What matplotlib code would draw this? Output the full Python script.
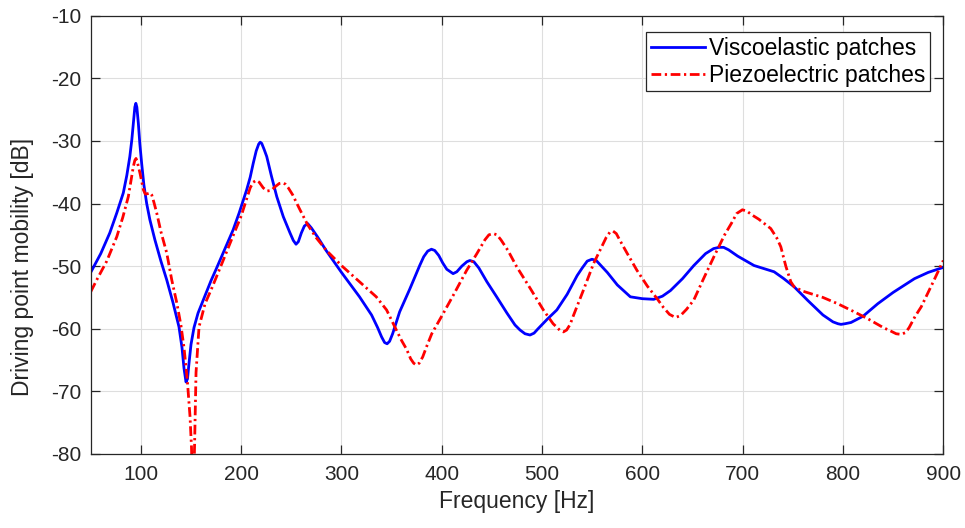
import matplotlib
matplotlib.use("Agg")
import matplotlib.pyplot as plt

plt.rcParams['font.family'] = ['Liberation Sans', 'DejaVu Sans']

# Viscoelastic patches (blue, solid)
visco_f = [50, 60, 69, 76, 82.5, 86, 89, 91, 92.5, 94, 95, 96, 97.5, 99, 100.8, 103, 105.8, 109,
           114, 120, 125.8, 132, 138, 141, 143, 145, 146.5, 148, 150, 153, 157, 164.7, 170, 175,
           184.7, 192, 198, 205.5, 209, 212, 215, 217.5, 219, 220.5, 223, 225.5, 230, 235.5,
           242, 248.7, 252, 254.7, 257, 260, 263, 266.3, 270, 276, 284.7, 300, 318, 330, 336,
           340, 343, 345.5, 348, 351, 354, 358, 363, 368, 373, 378, 382, 386, 389.7, 393, 397,
           401, 405, 411.3, 415, 420, 425, 428, 432, 437, 445, 454.7, 465, 473, 478, 483, 488,
           492, 496, 505, 514.7, 525, 535, 540, 545, 549.7, 554, 558, 565, 575, 588, 600,
           611.3, 620, 628, 640, 651.3, 663, 671, 676.3, 681, 686, 695, 711.3, 731.3, 741,
           751.3, 765, 780, 790, 795, 798, 802, 808, 820, 834.7, 850, 871.3, 885, 900]
visco_db = [-51.0, -48.0, -44.7, -41.5, -38.3, -35.5, -32.5, -29.8, -27.2, -24.6, -24.0, -24.6,
            -27.2, -30.5, -33.6, -37.0, -40.0, -42.6, -45.8, -49.2, -52.2, -55.8, -59.7, -63.0,
            -66.3, -68.5, -68.0, -65.5, -62.5, -59.8, -57.5, -54.4, -52.3, -50.5, -46.9, -44.2,
            -41.5, -37.8, -35.8, -33.6, -31.6, -30.5, -30.2, -30.4, -31.4, -32.5, -35.5, -38.9,
            -42.1, -44.7, -45.9, -46.5, -46.1, -44.7, -43.6, -43.2, -43.9, -45.3, -47.5, -51.0,
            -54.9, -57.8, -59.8, -61.3, -62.2, -62.4, -62.0, -60.8, -59.3, -57.3, -55.5, -53.7,
            -51.8, -49.9, -48.5, -47.6, -47.3, -47.5, -48.3, -49.5, -50.5, -51.2, -50.9, -50.0,
            -49.3, -49.1, -49.3, -50.3, -52.5, -54.9, -57.5, -59.4, -60.2, -60.8, -61.0, -60.7,
            -60.0, -58.5, -57.0, -54.5, -51.5, -50.3, -49.2, -48.9, -49.1, -49.8, -51.0, -53.0,
            -54.9, -55.2, -55.3, -54.8, -53.9, -52.0, -49.9, -48.0, -47.2, -47.0, -47.0, -47.4,
            -48.4, -49.9, -50.9, -52.0, -53.3, -55.5, -57.8, -58.9, -59.2, -59.3, -59.2, -59.0,
            -58.0, -56.0, -54.2, -52.0, -51.0, -50.2]

# Piezoelectric patches (red, dash-dot)
piezo_f = [50, 56, 66, 76, 82, 85, 87.5, 90, 92.5, 94, 95.2, 96.5, 99.2, 101, 102.5, 104.5,
           107.5, 109.5, 110.8, 113, 115.8, 120, 125.8, 130.8, 136, 140, 143, 146.3, 149,
           150.5, 152, 153.5, 155, 158, 164, 171.3, 181, 191.3, 200, 206, 209, 212, 215, 218,
           222, 226, 230, 234, 238, 241.3, 244, 247, 251.3, 258, 266.3, 275, 285, 301.3, 318,
           334.7, 345, 354.7, 360, 365, 369, 372, 374.7, 377.5, 381, 385, 390, 401.3, 412,
           424.7, 435, 443, 447, 451.3, 455, 459, 466, 474.7, 488, 501.3, 511, 515, 518, 521.3,
           524.5, 528, 531, 534.7, 541.3, 551.3, 558, 564, 567.5, 570.7, 574, 578, 585, 594.7,
           605, 614.7, 621, 627, 633, 638, 644, 651.3, 661, 671.3, 682, 689, 694, 699.7, 704,
           710, 716, 728, 734, 738, 743, 748, 751.3, 760, 768, 780, 794.7, 810, 824.7, 840,
           848, 853, 858, 862.5, 866, 872, 878, 890, 900]
piezo_db = [-54.1, -52.2, -49.2, -45.3, -42.2, -40.4, -38.9, -36.5, -34.1, -33.1, -32.8, -33.4,
            -35.2, -36.6, -37.8, -38.5, -38.4, -38.3, -38.6, -39.8, -41.5, -44.5, -47.9, -52.2,
            -56.0, -59.5, -63.0, -68.2, -74.0, -79.0, -90.0, -79.0, -67.0, -59.7, -56.0, -53.3,
            -49.5, -45.4, -42.0, -39.0, -37.5, -36.6, -36.3, -36.6, -37.5, -38.0, -37.9, -37.3,
            -36.8, -36.7, -36.9, -37.5, -38.6, -40.8, -43.4, -45.5, -47.5, -50.1, -52.5, -54.9,
            -57.0, -60.2, -61.9, -63.3, -64.8, -65.5, -65.8, -65.5, -64.5, -62.8, -60.8, -57.6,
            -54.5, -50.7, -48.0, -45.8, -45.0, -44.8, -45.0, -45.8, -47.5, -50.1, -53.5, -57.0,
            -59.2, -59.8, -60.3, -60.5, -60.2, -59.3, -58.0, -56.5, -53.8, -49.6, -47.4, -45.4,
            -44.6, -44.4, -44.8, -46.0, -48.0, -50.7, -53.2, -55.2, -56.6, -57.7, -58.2, -57.9,
            -56.9, -55.4, -52.0, -48.5, -45.0, -43.1, -41.6, -41.0, -41.2, -41.9, -42.5, -44.0,
            -45.5, -46.9, -50.0, -52.5, -53.3, -54.0, -54.4, -55.0, -56.0, -57.2, -58.4, -59.8,
            -60.4, -60.8, -60.9, -60.6, -59.8, -58.0, -56.5, -52.5, -49.1]

x_ticks = [100, 200, 300, 400, 500, 600, 700, 800, 900]
y_ticks = [-80, -70, -60, -50, -40, -30, -20, -10]

fig = plt.figure(figsize=(9.65, 5.28), dpi=100)
ax = fig.add_axes([0.094, 0.1402, 0.8835, 0.8301])

ax.plot(visco_f, visco_db, color=(0, 0, 1), lw=2.0, solid_joinstyle='round',
        label='Viscoelastic patches')
ax.plot(piezo_f, piezo_db, color=(1, 0, 0), lw=2.0, linestyle=(0, (3.5, 1.3, 0.8, 1.3)),
        dash_joinstyle='round', label='Piezoelectric patches')

ax.set_xlim(50, 900)
ax.set_ylim(-80, -10)
ax.set_xticks(x_ticks)
ax.set_yticks(y_ticks)
ax.set_xticklabels([str(t) for t in x_ticks])
ax.set_yticklabels([str(t) for t in y_ticks])

ax.grid(True, color='#dedede', linewidth=0.8)
ax.set_axisbelow(True)
for s in ax.spines.values():
    s.set_color('#262626')
    s.set_linewidth(0.9)
ax.tick_params(direction='in', length=6.5, width=0.9, colors='#262626',
               top=True, right=True, labelsize=15)
ax.tick_params(axis='x', pad=8)
ax.tick_params(axis='y', pad=7)

ax.set_xlabel('Frequency [Hz]', fontsize=16.5, color='#262626', labelpad=4)
ax.set_ylabel('Driving point mobility [dB]', fontsize=16.5, color='#262626')
ax.yaxis.set_label_coords(-0.0665, 0.427)

leg = ax.legend(loc='upper right', bbox_to_anchor=(0.9844, 0.962), borderaxespad=0,
                fontsize=16.5, fancybox=False, framealpha=1, edgecolor='#262626',
                handlelength=2.36, handletextpad=0.17, labelspacing=0.17, borderpad=0.2)
leg.get_frame().set_linewidth(0.9)

fig.savefig('out.png', dpi=100)
